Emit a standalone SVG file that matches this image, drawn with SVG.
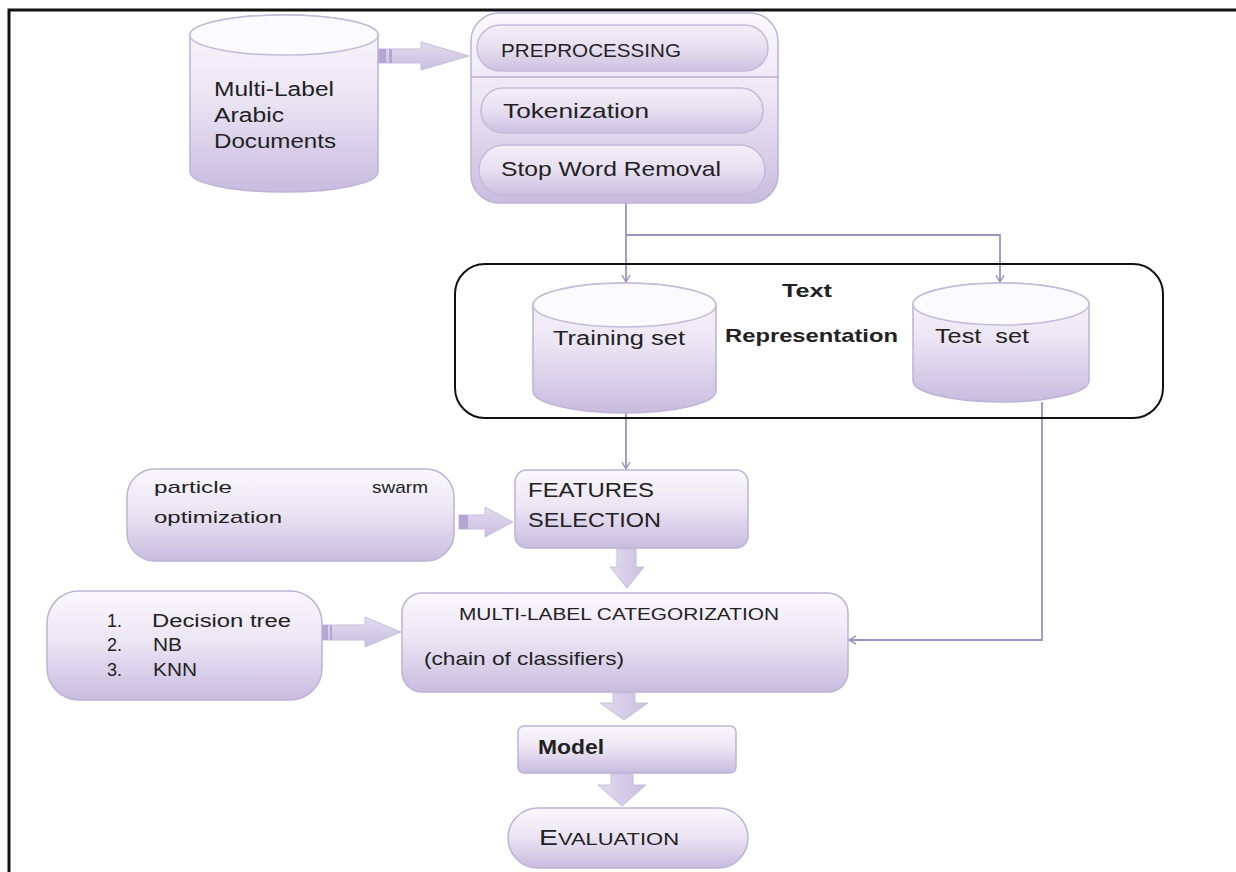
<svg xmlns="http://www.w3.org/2000/svg" width="1236" height="872" viewBox="0 0 1236 872">
<defs>
<linearGradient id="lav" x1="0" y1="0" x2="0" y2="1">
<stop offset="0" stop-color="#faf8fd"/>
<stop offset="0.45" stop-color="#ece6f4"/>
<stop offset="1" stop-color="#c8bcdf"/>
</linearGradient>
<linearGradient id="pill" x1="0" y1="0" x2="0" y2="1">
<stop offset="0" stop-color="#f3eff8"/>
<stop offset="0.5" stop-color="#e6dff0"/>
<stop offset="1" stop-color="#cbc0e0"/>
</linearGradient>
<linearGradient id="arr" x1="0" y1="0" x2="0" y2="1">
<stop offset="0" stop-color="#e2dbee"/>
<stop offset="1" stop-color="#c9bfe0"/>
</linearGradient>
<linearGradient id="arrv" x1="0" y1="0" x2="1" y2="0">
<stop offset="0" stop-color="#e2dbee"/>
<stop offset="1" stop-color="#c9bfe0"/>
</linearGradient>
<marker id="ah" markerWidth="10" markerHeight="10" refX="8" refY="5" orient="auto" markerUnits="userSpaceOnUse">
<path d="M1,1 L8,5 L1,9" fill="none" stroke="#9d93c0" stroke-width="1.5"/>
</marker>
<style>
.box{fill:url(#lav);stroke:#bdb3d6;stroke-width:1.5}
.pill{fill:url(#pill);stroke:#c4bad9;stroke-width:1.5}
.top{fill:#fbfaff;stroke:#c4bad9;stroke-width:1.5}
.ba{fill:url(#arr);stroke:#c7bedc;stroke-width:1}
.bav{fill:url(#arrv);stroke:#c7bedc;stroke-width:1}
.tail{fill:#b3a6d2}
.ln{fill:none;stroke:#9d93c0;stroke-width:1.8}
.t{font-family:"Liberation Sans",Arial,sans-serif;font-size:20px;fill:#222}
.b{font-weight:bold}
</style>
</defs>

<g id="frame">
<path d="M9,872 V10 H1236" fill="none" stroke="#111" stroke-width="3"/>
</g>

<g id="connectors">
<polyline class="ln" points="626,203 626,282" marker-end="url(#ah)"/>
<polyline class="ln" points="626,235 1000,235 1000,282" marker-end="url(#ah)"/>
<polyline class="ln" points="626,413 626,469" marker-end="url(#ah)"/>
<polyline class="ln" points="1042,402 1042,640 849,640" marker-end="url(#ah)"/>
<polygon class="ba" points="378,49 421,49 421,42 469,56 421,70 421,63 378,63"/>
<rect class="tail" x="378" y="49" width="8" height="14"/>
<rect class="tail" x="389" y="49" width="3" height="14"/>
<polygon class="ba" points="459,515 485,515 485,507 513,522 485,537 485,529 459,529"/>
<rect class="tail" x="459" y="515" width="9" height="14"/>
<polygon class="ba" points="322,625 365,625 365,617 401,632 365,647 365,640 322,640"/>
<rect class="tail" x="322" y="625" width="6" height="15"/>
<rect class="tail" x="330" y="625" width="2" height="15"/>
<polygon class="bav" points="617,549 636,549 636,567 644,567 627,588 610,567 617,567"/>
<polygon class="bav" points="613,693 635,693 635,703 648,703 624,720 600,703 613,703"/>
<polygon class="bav" points="611,774 633,774 633,785 646,785 622,806 598,785 611,785"/>
</g>

<g id="docs">
<path class="box" d="M190,35 A94,20 0 0 1 378,35 V172 A94,20 0 0 1 190,172 Z"/>
<ellipse class="top" cx="284" cy="35" rx="94" ry="20"/>
<text class="t" x="214" y="96" textLength="120" lengthAdjust="spacingAndGlyphs">Multi-Label</text>
<text class="t" x="214" y="122" textLength="70" lengthAdjust="spacingAndGlyphs">Arabic</text>
<text class="t" x="214" y="148" textLength="122" lengthAdjust="spacingAndGlyphs">Documents</text>
</g>

<g id="preprocessing">
<rect class="box" x="471" y="13" width="307" height="190" rx="28"/>
<line x1="471" y1="77" x2="778" y2="77" stroke="#b5abcf" stroke-width="1.5"/>
<rect class="pill" x="477" y="25" width="291" height="46" rx="23"/>
<text class="t" x="501" y="57" style="font-size:19px" textLength="180" lengthAdjust="spacingAndGlyphs">PREPROCESSING</text>
<g id="tokenization">
<rect class="pill" x="481" y="88" width="282" height="45" rx="22"/>
<text class="t" x="503" y="118" style="font-size:21px" textLength="146" lengthAdjust="spacingAndGlyphs">Tokenization</text>
</g>
<g id="stopword">
<rect class="pill" x="479" y="145" width="286" height="50" rx="25"/>
<text class="t" x="501" y="176" style="font-size:21px" textLength="220" lengthAdjust="spacingAndGlyphs">Stop Word Removal</text>
</g>
</g>

<g id="textrep">
<rect x="455" y="264" width="708" height="154" rx="30" fill="none" stroke="#111" stroke-width="2"/>
<text class="t b" x="782" y="297" style="font-size:19px" textLength="50" lengthAdjust="spacingAndGlyphs">Text</text>
<text class="t b" x="725" y="342" style="font-size:19px" textLength="173" lengthAdjust="spacingAndGlyphs">Representation</text>
</g>

<g id="training">
<path class="box" d="M533,305 A91.5,22 0 0 1 716,305 V391 A91.5,22 0 0 1 533,391 Z"/>
<ellipse class="top" cx="624.5" cy="305" rx="91.5" ry="22"/>
<text class="t" x="553" y="345" textLength="132" lengthAdjust="spacingAndGlyphs">Training set</text>
</g>

<g id="test">
<path class="box" d="M913,304 A88,21 0 0 1 1089,304 V381 A88,21 0 0 1 913,381 Z"/>
<ellipse class="top" cx="1001" cy="304" rx="88" ry="21"/>
<text class="t" x="935" y="343" xml:space="preserve" textLength="94" lengthAdjust="spacingAndGlyphs">Test  set</text>
</g>

<g id="pso">
<rect class="box" x="127" y="469" width="327" height="92" rx="28"/>
<text class="t" x="154" y="493" style="font-size:17px" textLength="78" lengthAdjust="spacingAndGlyphs">particle</text>
<text class="t" x="372" y="493" style="font-size:17px" textLength="56" lengthAdjust="spacingAndGlyphs">swarm</text>
<text class="t" x="154" y="523" style="font-size:17px" textLength="128" lengthAdjust="spacingAndGlyphs">optimization</text>
</g>

<g id="features">
<rect class="box" x="515" y="470" width="233" height="78" rx="12"/>
<text class="t" x="528" y="497" textLength="126" lengthAdjust="spacingAndGlyphs">FEATURES</text>
<text class="t" x="528" y="527" textLength="133" lengthAdjust="spacingAndGlyphs">SELECTION</text>
</g>

<g id="classifiers">
<rect class="box" x="47" y="591" width="275" height="109" rx="32"/>
<text class="t" x="107" y="627" style="font-size:18px">1.</text>
<text class="t" x="152" y="627" style="font-size:18px" textLength="139" lengthAdjust="spacingAndGlyphs">Decision tree</text>
<text class="t" x="107" y="651" style="font-size:18px">2.</text>
<text class="t" x="153" y="651" style="font-size:18px" textLength="29" lengthAdjust="spacingAndGlyphs">NB</text>
<text class="t" x="107" y="676" style="font-size:18px">3.</text>
<text class="t" x="153" y="676" style="font-size:18px" textLength="44" lengthAdjust="spacingAndGlyphs">KNN</text>
</g>

<g id="mlc">
<rect class="box" x="402" y="593" width="446" height="99" rx="20"/>
<text class="t" x="459" y="620" style="font-size:16px" textLength="320" lengthAdjust="spacingAndGlyphs">MULTI-LABEL CATEGORIZATION</text>
<text class="t" x="424" y="665" style="font-size:19px" textLength="200" lengthAdjust="spacingAndGlyphs">(chain of classifiers)</text>
</g>

<g id="model">
<rect class="box" x="518" y="726" width="218" height="47" rx="6"/>
<text class="t b" x="538" y="754" textLength="66" lengthAdjust="spacingAndGlyphs">Model</text>
</g>

<g id="evaluation">
<rect class="box" x="508" y="808" width="240" height="60" rx="30"/>
<text class="t" x="539" y="845" style="font-size:17px" textLength="140" lengthAdjust="spacingAndGlyphs"><tspan style="font-size:22px">E</tspan>VALUATION</text>
</g>
</svg>
